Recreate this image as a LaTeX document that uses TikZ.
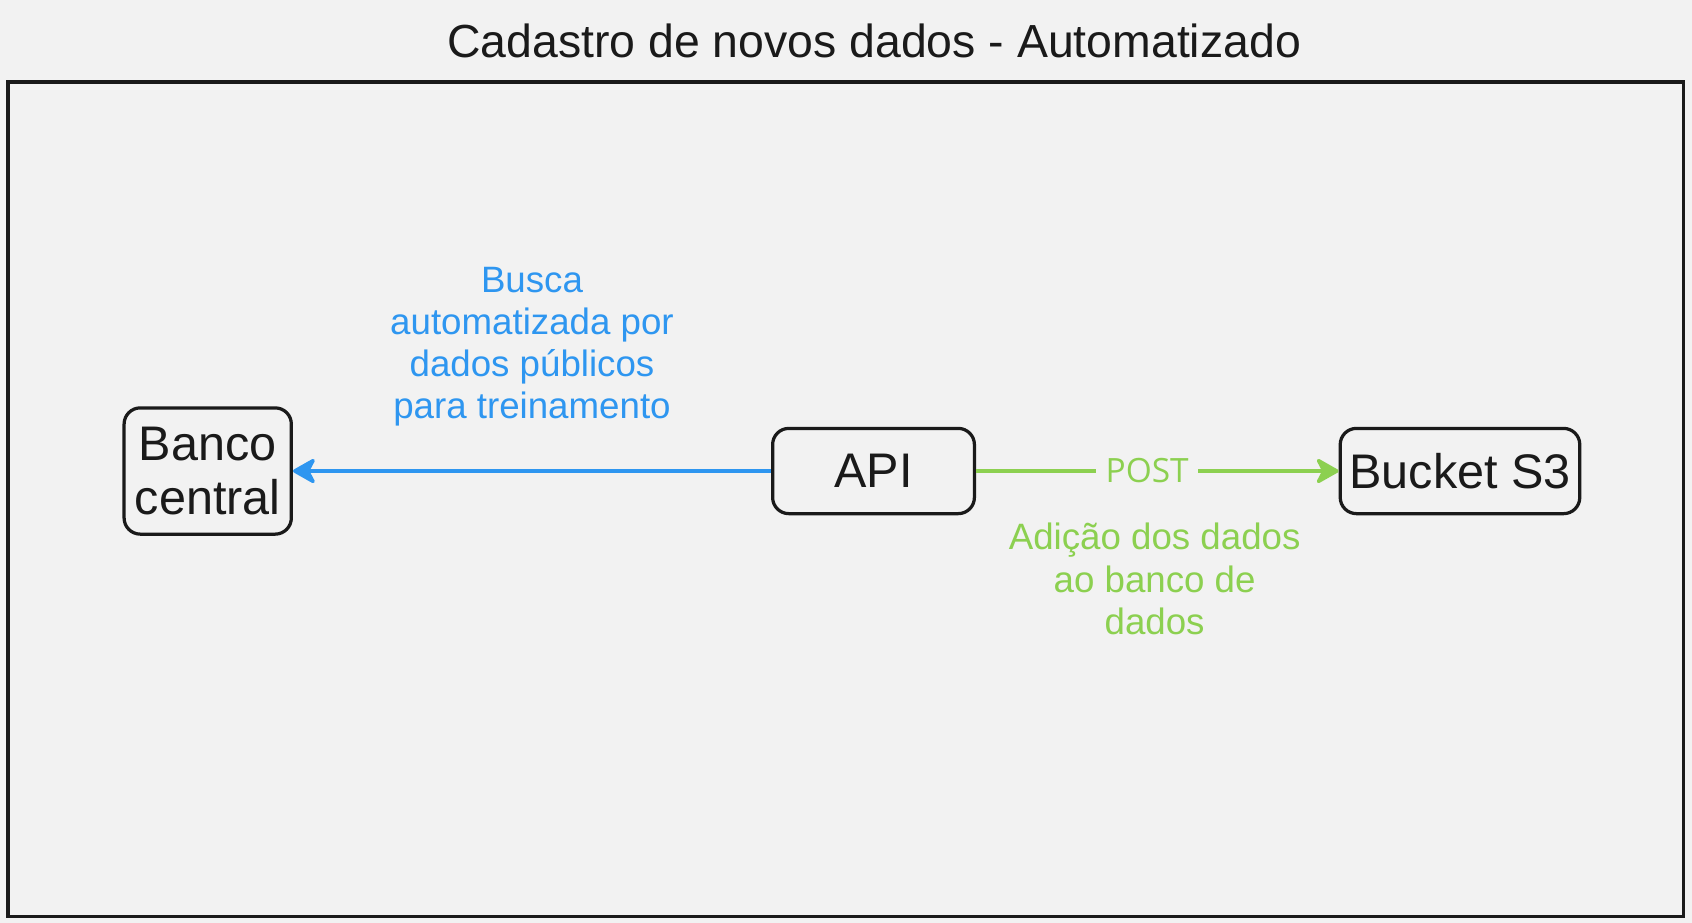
\documentclass[tikz,border=0pt]{standalone}
\usepackage{fontspec}
\setmainfont{Liberation Sans}
\newfontfamily\postfont{Open Sans}
\usetikzlibrary{arrows.meta}
\definecolor{bg}{RGB}{242,242,242}
\definecolor{ink}{RGB}{26,26,26}
\definecolor{bluec}{RGB}{46,150,240}
\definecolor{greenc}{RGB}{140,208,80}
\tikzset{
  box/.style={draw=ink, line width=1.5pt, rounded corners=7.5pt, fill=bg, inner sep=0pt,
    align=center, text=ink, font=\fontsize{22.5}{25}\selectfont},
  lbl/.style={align=center, inner sep=0pt, font=\fontsize{17}{19.5}\selectfont},
  conn/.style={line width=1.6pt, -{Stealth[length=12pt,width=13.5pt,inset=3.5pt,round]}},
}
\begin{document}
\begin{tikzpicture}[x=0.5pt,y=-0.5pt]
\useasboundingbox (0,0) rectangle (1568,855);
\fill[bg] (0,0) rectangle (1568,855);
\node[font=\fontsize{21.5}{24}\selectfont, text=ink, inner sep=0pt] (title) at (810,38) {Cadastro de novos dados - Automatizado};
\draw[ink, line width=1.5pt] (7.5,76) rectangle (1560,849);
\node[box, minimum width=77.5pt, minimum height=58.5pt] (banco) at (192.5,436.5) {Banco\\central};
\node[box, minimum width=93.5pt, minimum height=39.5pt] (api) at (809.5,436.5) {API};
\node[box, minimum width=111pt, minimum height=39.5pt] (bucket) at (1353,436.5) {Bucket S3};
\draw[conn, bluec] (api) -- (banco);
\draw[conn, greenc] (api) -- node[pos=0.472, fill=bg, inner xsep=4.5pt, inner ysep=2pt, text=greenc, font=\postfont\fontsize{15.5}{18}\selectfont] (post) {POST} (bucket);
\node[lbl, text=bluec] (busca) at (493,321.5) {Busca\\automatizada por\\dados públicos\\para treinamento};
\node[lbl, text=greenc] (adicao) at (1070,536.5) {Adição dos dados\\ao banco de\\dados};
\end{tikzpicture}
\end{document}
